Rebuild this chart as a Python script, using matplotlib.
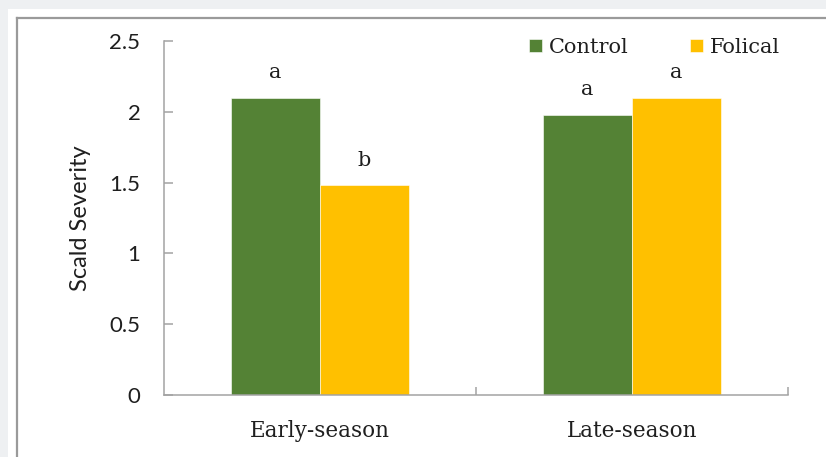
import numpy as np
import matplotlib.pyplot as plt
from matplotlib.patches import Rectangle
from matplotlib.lines import Line2D

# scald severity by harvest timing
seasons = ["Early-season", "Late-season"]
control = [2.10, 1.98]
folical = [1.48, 2.10]
control_letters = ["a", "a"]
folical_letters = ["b", "a"]
yticks = [0, 0.5, 1, 1.5, 2, 2.5]

green = "#548235"
yellow = "#FFC000"
axis_gray = "#a3a3a3"
serif = "DejaVu Serif"
sans = "Lato"

fig = plt.figure(figsize=(8.26, 4.57), dpi=100, facecolor="#eef0f2")

# white panel with the thin border on the left/top
fig.patches.append(Rectangle((8 / 826, 0), 1, 1 - 9 / 457, transform=fig.transFigure,
                             facecolor="white", edgecolor="none", zorder=-2))
fig.lines.append(Line2D([17 / 826, 17 / 826], [0, 1 - 18 / 457], transform=fig.transFigure,
                        color="#9a9a9a", lw=1.6, zorder=-1))
fig.lines.append(Line2D([17 / 826, 1], [1 - 18 / 457, 1 - 18 / 457], transform=fig.transFigure,
                        color="#9a9a9a", lw=1.6, zorder=-1))

ax = fig.add_axes([164 / 826, 62 / 457, 624 / 826, 354 / 457])
ax.set_facecolor("none")

x = np.arange(len(seasons))
w = 0.285
b1 = ax.bar(x - w / 2, control, w, color=green, edgecolor="white", linewidth=0.4, label="Control")
b2 = ax.bar(x + w / 2, folical, w, color=yellow, edgecolor="white", linewidth=0.4, label="Folical")

for bars, letters in ((b1, control_letters), (b2, folical_letters)):
    for bar, t in zip(bars, letters):
        ax.annotate(t, (bar.get_x() + bar.get_width() / 2, bar.get_height()),
                    xytext=(0, 11), textcoords="offset points", ha="center", va="bottom",
                    fontsize=15, family=serif, color="#1f1f1f")

ax.set_xlim(-0.5, 1.5)
ax.set_ylim(0, 2.5)
ax.set_yticks(yticks)
ax.set_yticklabels([f"{v:g}" for v in yticks], fontsize=16, family=sans, color="#1f1f1f")
ax.tick_params(axis="y", direction="in", length=6.5, width=1.1, color=axis_gray, pad=17)

ax.set_xticks(x)
ax.set_xticklabels(seasons, fontsize=15.5, family=serif, color="#1f1f1f")
ax.tick_params(axis="x", which="major", length=0, pad=18)
ax.set_xticks([0.5, 1.5], minor=True)
ax.tick_params(axis="x", which="minor", direction="in", length=6, width=1.1, color=axis_gray)

for s in ("top", "right"):
    ax.spines[s].set_visible(False)
for s in ("left", "bottom"):
    ax.spines[s].set_color(axis_gray)
    ax.spines[s].set_linewidth(1.1)

ax.set_ylabel("Scald Severity", fontsize=17, family=sans, color="#1f1f1f", labelpad=13)

ax.legend(loc="upper right", bbox_to_anchor=(1.018, 1.062), ncol=2, frameon=False,
          prop={"family": serif, "size": 15}, handlelength=0.65, handleheight=0.65,
          handletextpad=0.35, columnspacing=2.9, labelcolor="#1f1f1f")

fig.savefig("out.png", dpi=100, facecolor=fig.get_facecolor())
